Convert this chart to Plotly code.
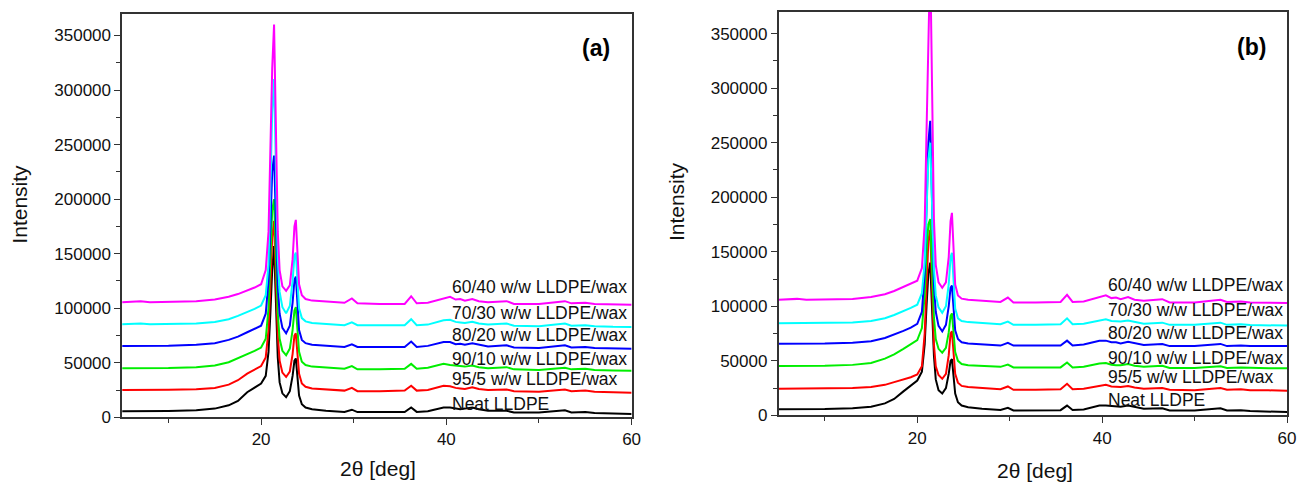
import plotly.graph_objects as go

# ---------------- data ----------------
two_theta = [5, 7, 8, 10, 13, 15, 16.5, 17.5, 18.5, 19.3, 20.0, 20.5, 20.8, 21.0, 21.2,
             21.4, 21.6, 21.8, 22.0, 22.3, 22.7, 23.1, 23.4, 23.6, 23.75, 23.9, 24.1, 24.4,
             24.8, 25.5, 27, 29, 29.8, 30.4, 32.8, 35.5, 36.2, 36.8, 38, 39.7, 40.4, 41.0,
             41.5, 42.0, 42.8, 43.5, 44.5, 46.5, 47.3, 50, 52.8, 53.5, 55, 56, 58, 60]

series_names = ["Neat LLDPE", "95/5 w/w LLDPE/wax", "90/10 w/w LLDPE/wax",
                "80/20 w/w LLDPE/wax", "70/30 w/w LLDPE/wax", "60/40 w/w LLDPE/wax"]

# panel (a)
neat_a = [5500, 5500, 5600, 5800, 6500, 8000, 11000, 15000, 23000, 27000, 31000, 38000, 60000, 95000, 135000,
          157000, 110000, 55000, 32000, 22000, 18500, 24000, 38000, 52000, 54000, 40000, 20000, 12000,
          9000, 7500, 6000, 5000, 7000, 4800, 4600, 4800, 9000, 5000, 5500, 9000, 9000, 8500,
          7500, 8000, 9000, 7500, 6000, 6000, 4500, 4500, 6500, 4500, 4800, 4000, 3500, 3000]
w95_a = [25000, 25000, 25000, 25200, 25800, 27000, 30000, 34000, 40000, 44000, 47000, 55000, 80000, 120000, 165000,
         180000, 130000, 75000, 52000, 41000, 37000, 42000, 58000, 75000, 77000, 60000, 40000, 31000,
         28000, 26500, 25500, 24500, 27000, 24000, 24000, 24500, 29000, 24500, 25000, 29000, 28500, 27000,
         26500, 26000, 27500, 26000, 25000, 25500, 24000, 23500, 25500, 24000, 24500, 23500, 23000, 22500]
w90_a = [45000, 45000, 45000, 45200, 46000, 47500, 50500, 54000, 58000, 61000, 64000, 72000, 100000, 145000, 190000,
         200000, 150000, 95000, 72000, 61000, 57000, 63000, 80000, 98000, 101000, 82000, 60000, 51000,
         48000, 46500, 45500, 44500, 47000, 44000, 44000, 44500, 49000, 44500, 45500, 49000, 48000, 47500,
         46500, 46500, 47500, 46000, 45000, 46000, 44000, 43500, 45500, 44000, 44500, 43500, 43000, 42800]
w80_a = [65500, 65500, 65500, 65700, 66500, 68000, 71000, 74000, 78000, 81000, 84000, 95000, 125000, 175000, 225000,
         240000, 180000, 120000, 95000, 82000, 77000, 84000, 105000, 126000, 129000, 105000, 80000, 71000,
         68000, 66500, 65500, 64500, 67000, 64500, 64500, 64500, 69500, 64500, 65500, 69000, 69000, 67000,
         67500, 66500, 68000, 66500, 65000, 66000, 64000, 63500, 66000, 64000, 64500, 63500, 63000, 62800]
w70_a = [85300, 86000, 85300, 85400, 86000, 87500, 90000, 93000, 96500, 99500, 102500, 112000, 140000, 200000, 280000,
         310000, 230000, 145000, 115000, 101000, 95500, 102000, 125000, 148000, 151000, 125000, 100000, 91000,
         88000, 86500, 85500, 84500, 87000, 84500, 84500, 84500, 90000, 84500, 85000, 89000, 89500, 87500,
         87000, 86500, 87500, 86000, 85000, 86000, 84000, 83500, 86000, 84000, 84500, 83500, 83000, 82900]
w60_a = [105600, 106500, 105600, 105700, 106500, 108000, 110500, 113000, 116000, 119000, 122000, 135000, 170000, 240000, 320000,
         360000, 270000, 170000, 135000, 120000, 116000, 121000, 145000, 175000, 181000, 150000, 122000, 112000,
         108500, 107000, 106000, 105000, 109000, 104500, 104000, 104000, 111000, 104500, 105000, 109000, 110500, 108000,
         108500, 107000, 108500, 106500, 105500, 106500, 104000, 104000, 106500, 104500, 105000, 104000, 103500, 103200]

# panel (b)
neat_b = [5700, 5700, 5700, 5800, 6500, 8000, 11000, 15000, 22000, 27000, 32000, 40000, 65000, 100000, 130000,
          140000, 100000, 55000, 33000, 23000, 20000, 25000, 38000, 50000, 51500, 38000, 20000, 12000,
          9000, 7500, 6000, 5000, 7000, 4500, 4500, 4800, 9000, 5000, 5500, 9000, 9000, 8500,
          8000, 8000, 9000, 7500, 6000, 6500, 4500, 4500, 6500, 4500, 4800, 4000, 3500, 3000]
w95_b = [24500, 24500, 24500, 24600, 25000, 26000, 28000, 30500, 33000, 35000, 37500, 45000, 75000, 120000, 160000,
         170000, 120000, 65000, 45000, 37000, 33500, 38000, 55000, 75000, 77000, 58000, 38000, 30000,
         27000, 26000, 25000, 24000, 26500, 23500, 23500, 24000, 29000, 24000, 24500, 27000, 28000, 26500,
         26000, 26000, 27000, 25500, 24500, 25000, 23500, 23000, 25000, 23500, 24000, 23000, 23000, 22500]
w90_b = [45200, 45200, 45200, 45400, 46300, 48000, 52000, 56000, 61000, 65000, 69000, 80000, 110000, 150000, 175000,
         180000, 140000, 90000, 70000, 61000, 57500, 62000, 76000, 91000, 93500, 78000, 58000, 50000,
         47000, 46000, 45500, 44500, 46500, 44000, 44000, 44000, 48500, 44000, 44500, 47500, 48000, 46500,
         46000, 46000, 47000, 45500, 44500, 45500, 43500, 43500, 45000, 43500, 44000, 43500, 43200, 43100]
w80_b = [65600, 65600, 65600, 65800, 66500, 68000, 71000, 74000, 77500, 80500, 84000, 95000, 130000, 190000, 250000,
         270000, 190000, 120000, 95000, 82000, 77000, 83000, 100000, 117000, 119000, 100000, 78000, 70000,
         67000, 66000, 65000, 64000, 66500, 64000, 64000, 64000, 68500, 64000, 65000, 68500, 68500, 67000,
         67000, 66000, 67500, 66000, 64500, 65500, 63500, 63500, 65500, 63500, 64000, 63500, 63500, 63500]
w70_b = [84400, 84600, 84400, 84500, 85200, 86500, 89000, 92000, 95500, 98500, 101500, 112000, 140000, 190000, 235000,
         250000, 190000, 135000, 110000, 99000, 94000, 100000, 120000, 145000, 149000, 125000, 98000, 89000,
         86500, 85500, 84500, 83500, 86000, 83000, 83000, 83500, 89000, 83500, 84000, 87000, 88000, 86500,
         86000, 86000, 87000, 85500, 84000, 85000, 83000, 83000, 85000, 83000, 83500, 82800, 82500, 82300]
w60_b = [106000, 106800, 106000, 106100, 106800, 108500, 111000, 114000, 118000, 121000, 123500, 135000, 175000, 260000, 360000,
         420000, 300000, 180000, 138000, 122000, 117000, 122000, 145000, 178000, 185600, 150000, 120000, 110000,
         107000, 106000, 105000, 104000, 108000, 103500, 103500, 104000, 110500, 104000, 104500, 108500, 110000, 107500,
         108000, 106500, 108500, 106000, 105000, 106500, 103500, 103500, 106000, 104000, 104500, 103500, 103000, 103000]

label_y_a = [12600, 35000, 53900, 75400, 96000, 119400]
label_y_b = [14400, 35000, 53000, 75500, 96400, 119500]
label_x = 40.4

colors = ["#000000", "#ff0000", "#00ee00", "#0000ff", "#00ffff", "#ff00ff"]

panel_a = [neat_a, w95_a, w90_a, w80_a, w70_a, w60_a]
panel_b = [neat_b, w95_b, w90_b, w80_b, w70_b, w60_b]

FONT = "Liberation Sans, Arial, sans-serif"

fig = go.Figure()
for panel, (xa, ya) in ((panel_a, ("x", "y")), (panel_b, ("x2", "y2"))):
    for name, ys, c in zip(series_names, panel, colors):
        fig.add_trace(go.Scatter(x=two_theta, y=ys, mode="lines", name=name,
                                 line=dict(color=c, width=2), xaxis=xa, yaxis=ya,
                                 showlegend=False))

common_x = dict(range=[5, 60], tick0=0, dtick=20, ticks="outside", ticklen=6, tickwidth=1.3,
                tickcolor="#333", showline=True, mirror=True, linecolor="#333", linewidth=1.5,
                showgrid=False, zeroline=False,
                tickfont=dict(family=FONT, size=17, color="#111"),
                minor=dict(dtick=10, ticks="outside", ticklen=4, tickwidth=1.2, tickcolor="#333"))
common_y = dict(range=[0, 370000], tick0=0, dtick=50000, ticks="outside", ticklen=6, tickwidth=1.3,
                tickcolor="#333", showline=True, mirror=True, linecolor="#333", linewidth=1.5,
                showgrid=False, zeroline=False, tickformat="d",
                tickfont=dict(family=FONT, size=17, color="#111"),
                minor=dict(dtick=25000, ticks="outside", ticklen=4, tickwidth=1.2, tickcolor="#333"))

W, H = 1307, 492
fig.update_layout(
    width=W, height=H, margin=dict(l=0, r=0, t=0, b=0),
    paper_bgcolor="white", plot_bgcolor="white",
    xaxis=dict(common_x, domain=[123 / W, 636 / W], anchor="y"),
    yaxis=dict(common_y, domain=[1 - 426 / H, 1 - 14 / H], anchor="x"),
    xaxis2=dict(common_x, domain=[784 / W, 1296 / W], anchor="y2"),
    yaxis2=dict(common_y, domain=[1 - 424 / H, 1 - 12 / H], anchor="x2"),
)

ann = []
for (xr, yr, ys) in (("x", "y", label_y_a), ("x2", "y2", label_y_b)):
    for name, yv in zip(series_names, ys):
        ann.append(dict(x=label_x, y=yv, xref=xr, yref=yr, text=name, showarrow=False,
                        xanchor="left", yanchor="middle",
                        font=dict(family=FONT, size=17.5, color="#111")))
# panel letters
ann.append(dict(x=600 / W, y=1 - 49 / H, xref="paper", yref="paper", text="<b>(a)</b>",
                showarrow=False, xanchor="center", yanchor="middle",
                font=dict(family=FONT, size=23, color="#000")))
ann.append(dict(x=1260 / W, y=1 - 48 / H, xref="paper", yref="paper", text="<b>(b)</b>",
                showarrow=False, xanchor="center", yanchor="middle",
                font=dict(family=FONT, size=23, color="#000")))
# axis titles
for cx, cy_t, cx2, cy2 in ((381, 478, 20, 208), (1042, 480, 682, 206)):
    ann.append(dict(x=cx / W, y=1 - cy_t / H, xref="paper", yref="paper", text="2θ [deg]",
                    showarrow=False, xanchor="center", yanchor="middle",
                    font=dict(family=FONT, size=21, color="#111")))
    ann.append(dict(x=cx2 / W, y=1 - cy2 / H, xref="paper", yref="paper", text="Intensity",
                    showarrow=False, textangle=-90, xanchor="center", yanchor="middle",
                    font=dict(family=FONT, size=21, color="#111")))
fig.update_layout(annotations=ann)

fig.write_html("out.html")
